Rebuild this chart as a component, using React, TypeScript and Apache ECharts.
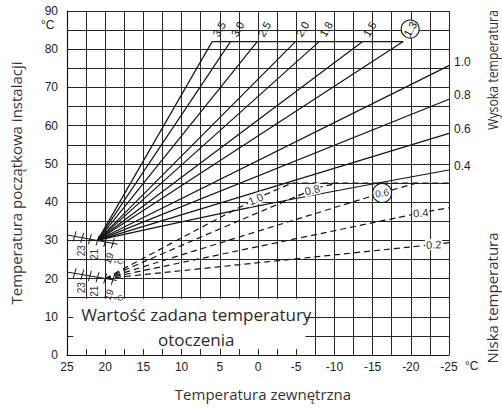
import { useEffect, useRef } from 'react';
import * as echarts from 'echarts';

// ---------------- data ----------------
const xTickLabels = [25, 20, 15, 10, 5, 0, -5, -10, -15, -20, -25];
const yTickLabels = [0, 10, 20, 30, 40, 50, 60, 70, 80, 90];

// high temperature heating curves (solid)
const highCurveNames = ['3.5', '3.0', '2.5', '2.0', '1.8', '1.5', '1.3', '1.0', '0.8', '0.6', '0.4'];
const highCurves: number[][][] = [
  [[21, 30], [6.0, 82]],
  [[21, 30], [3.6, 82]],
  [[21, 30], [0.1, 82]],
  [[21, 30], [-4.9, 82]],
  [[21, 30], [-8.0, 82]],
  [[21, 30], [-13.7, 82]],
  [[21, 30], [-19.0, 82]],
  [[21, 30], [-25, 75.7]],
  [[21, 30], [-25, 66.9]],
  [[21, 30], [-25, 58.0]],
  [[21, 30], [0, 39.0], [-25, 48.4]],
];
const highCap = [[6.0, 82], [-19.0, 82]];
const highCircled = '1.3';

// low temperature heating curves (dashed)
const lowCurveNames = ['1.0', '0.8', '0.6', '0.4', '0.2'];
const lowCurves: number[][][] = [
  [[20, 20], [0.3, 40.8], [-4.5, 45]],
  [[20, 20], [-7.1, 43.2], [-10.5, 45]],
  [[20, 20], [-16.25, 42.4], [-20.8, 45]],
  [[20, 20], [-21.3, 37.2], [-25, 38.5]],
  [[20, 20], [-23.0, 28.9], [-25, 29.4]],
];
const lowCap = [[-4.5, 45], [-25, 45]];
const lowLabelAt = [[0.3, 40.8], [-7.1, 43.2], [-16.25, 42.4], [-21.3, 37.2], [-23.0, 28.9]];
const lowLabelAngle = [22, 14, 9, 6, 3];
const lowCircled = '0.6';

// room set-point scales
const setpointTicks = [24, 23, 22, 21, 20, 19];
const setpointLabels = ['23', '21', '19'];
const highScale = [[25, 31.4], [18.4, 29.0]];
const lowScale = [[25, 21.7], [18.5, 19.5]];

const boxText = ['Wartość zadana temperatury', 'otoczenia'];

// ---------------- component ----------------
export default function App() {
  const ref = useRef<HTMLDivElement>(null);
  useEffect(() => {
    const chart = echarts.init(ref.current!, null, { renderer: 'svg' });
    const FA = '"Liberation Sans", Arial, sans-serif';
    const FT = '"Open Sans", "Noto Sans", sans-serif';
    const INK = '#141414';
    const GRID = '#262626';

    const series: any[] = [];
    highCurves.forEach((pts, i) =>
      series.push({
        type: 'line', name: 'H' + highCurveNames[i], data: pts, symbol: 'none', silent: true, z: 3,
        smooth: pts.length > 2 ? 0.35 : false,
        lineStyle: { color: INK, width: 1.2 },
      })
    );
    series.push({ type: 'line', data: highCap, symbol: 'none', silent: true, z: 3, lineStyle: { color: INK, width: 1.2 } });
    lowCurves.forEach((pts, i) =>
      series.push({
        type: 'line', name: 'L' + lowCurveNames[i], data: pts, symbol: 'none', silent: true, z: 3,
        smooth: 0.3,
        lineStyle: { color: INK, width: 1.2, type: [6, 4] },
      })
    );
    series.push({ type: 'line', data: lowCap, symbol: 'none', silent: true, z: 3, lineStyle: { color: INK, width: 1.2, type: [6, 4] } });

    const interp = (s: number[][], x: number) => {
      const t = (x - s[0][0]) / (s[1][0] - s[0][0]);
      return s[0][1] + t * (s[1][1] - s[0][1]);
    };

    // under layer: blank box with text, set-point scales
    series.push({
      type: 'custom', z: 1, silent: true, data: [[0, 0]],
      renderItem: (_p: any, api: any) => {
        const c = (p: number[]) => api.coord(p);
        const ch: any[] = [];
        const a = c([24.2, 14.7]);
        const b = c([-6.2, 1.6]);
        ch.push({ type: 'rect', shape: { x: a[0], y: a[1], width: b[0] - a[0], height: b[1] - a[1] }, style: { fill: '#fff' } });
        const mid = (a[0] + b[0]) / 2 + 7;
        ch.push({ type: 'text', x: mid, y: c([0, 10.5])[1], style: { text: boxText[0], font: `17px ${FT}`, fill: '#2a2a2a', align: 'center', verticalAlign: 'middle' } });
        ch.push({ type: 'text', x: mid, y: c([0, 4.0])[1], style: { text: boxText[1], font: `17px ${FT}`, fill: '#2a2a2a', align: 'center', verticalAlign: 'middle' } });

        [highScale, lowScale].forEach((s) => {
          const p0 = c(s[0]);
          const p1 = c(s[1]);
          ch.push({ type: 'line', shape: { x1: p0[0], y1: p0[1], x2: p1[0], y2: p1[1] }, style: { stroke: INK, lineWidth: 1 } });
          setpointTicks.forEach((t) => {
            const p = c([t, interp(s, t)]);
            ch.push({ type: 'line', shape: { x1: p[0] + 1.5, y1: p[1] - 5, x2: p[0] - 1.5, y2: p[1] + 5 }, style: { stroke: INK, lineWidth: 1 } });
          });
          const offs = [[-1, 13, Math.PI / 2], [-3, 14, Math.PI / 2], [-4, 15, 1.2]];
          setpointLabels.forEach((l, k) => {
            const v = Number(l);
            const p = c([v, interp(s, v)]);
            ch.push({ type: 'text', x: p[0] + offs[k][0], y: p[1] + offs[k][1], rotation: offs[k][2], style: { text: l, font: `10px ${FA}`, fill: '#333', align: 'center', verticalAlign: 'middle' } });
          });
          const p19 = c([19, interp(s, 19)]);
          ch.push({ type: 'text', x: p19[0] + 6, y: p19[1] + 19, rotation: 0.5, style: { text: '°C', font: `8px ${FA}`, fill: '#333', align: 'center', verticalAlign: 'middle' } });
        });
        return { type: 'group', children: ch };
      },
    });

    // over layer: curve labels
    series.push({
      type: 'custom', z: 6, silent: true, data: [[0, 0]],
      renderItem: (_p: any, api: any) => {
        const c = (p: number[]) => api.coord(p);
        const ch: any[] = [];
        highCurves.forEach((pts, i) => {
          const end = c(pts[pts.length - 1]);
          const name = highCurveNames[i];
          if (pts[pts.length - 1][0] > -25) {
            const x = end[0] + 7;
            const y = end[1] - 12.5;
            if (name === highCircled) {
              ch.push({ type: 'circle', shape: { cx: x, cy: y, r: 9 }, style: { fill: '#fff', stroke: INK, lineWidth: 1.1 } });
            }
            ch.push({ type: 'text', x, y, rotation: Math.PI / 3, style: { text: name, font: `11px ${FA}`, fill: INK, align: 'center', verticalAlign: 'middle' } });
          } else {
            ch.push({ type: 'text', x: end[0] + 5, y: end[1] - 4, style: { text: name, font: `12px ${FA}`, fill: '#222', align: 'left', verticalAlign: 'middle' } });
          }
        });
        lowLabelAt.forEach((pos, i) => {
          const p = c(pos);
          const name = lowCurveNames[i];
          if (name === lowCircled) {
            ch.push({ type: 'circle', shape: { cx: p[0], cy: p[1], r: 9.5 }, style: { fill: '#fff', stroke: INK, lineWidth: 1.1 } });
            ch.push({ type: 'text', x: p[0], y: p[1], rotation: (lowLabelAngle[i] * Math.PI) / 180, style: { text: name, font: `10px ${FA}`, fill: '#333', align: 'center', verticalAlign: 'middle' } });
          } else {
            ch.push({ type: 'text', x: p[0], y: p[1], rotation: (lowLabelAngle[i] * Math.PI) / 180, style: { text: name, font: `11px ${FA}`, fill: '#333', align: 'center', verticalAlign: 'middle', backgroundColor: '#fff', padding: [0, 1] } });
          }
        });
        return { type: 'group', children: ch };
      },
    });

    chart.setOption({
      animation: false,
      grid: { left: 66, right: 53, top: 11, bottom: 53 },
      xAxis: {
        type: 'value', inverse: true, min: -25, max: 25, interval: 5,
        name: 'Temperatura zewnętrzna', nameLocation: 'middle', nameGap: 31,
        nameTextStyle: { fontFamily: FT, fontSize: 15, color: '#333', padding: [0, 0, 0, 10] },
        axisLine: { show: true, onZero: false, lineStyle: { color: INK, width: 1.2 } },
        axisTick: { show: false },
        axisLabel: { color: '#222', fontSize: 12, fontFamily: FA, margin: 6, formatter: (v: number) => (xTickLabels.includes(v) ? String(v) : '') },
        splitLine: { show: true, lineStyle: { color: GRID, width: 1 } },
        minorTick: { show: false, splitNumber: 2 },
        minorSplitLine: { show: true, lineStyle: { color: GRID, width: 1 } },
      },
      yAxis: {
        type: 'value', min: 0, max: 90, interval: 10,
        name: 'Temperatura początkowa instalacji', nameLocation: 'middle', nameGap: 44,
        nameTextStyle: { fontFamily: FT, fontSize: 15, color: '#333' },
        axisLine: { show: true, onZero: false, lineStyle: { color: INK, width: 1.2 } },
        axisTick: { show: false },
        axisLabel: { color: '#222', fontSize: 12, fontFamily: FA, margin: 9, formatter: (v: number) => (yTickLabels.includes(v) ? String(v) : '') },
        splitLine: { show: true, lineStyle: { color: GRID, width: 1 } },
        minorTick: { show: false, splitNumber: 2 },
        minorSplitLine: { show: true, lineStyle: { color: GRID, width: 1 } },
      },
      graphic: [
        { type: 'text', left: 41, top: 19, style: { text: '°C', font: `12px ${FA}`, fill: '#222' } },
        { type: 'text', left: 465, top: 360, style: { text: '°C', font: `12px ${FA}`, fill: '#222' } },
        { type: 'text', x: 492, y: 70, rotation: Math.PI / 2, scaleX: 0.82, style: { text: 'Wysoka temperatura', font: `15px ${FT}`, fill: '#333', align: 'center', verticalAlign: 'middle' } },
        { type: 'text', x: 492, y: 298, rotation: Math.PI / 2, style: { text: 'Niska temperatura', font: `15px ${FT}`, fill: '#333', align: 'center', verticalAlign: 'middle' } },
      ],
      series,
    });
    return () => chart.dispose();
  }, []);
  return <div ref={ref} style={{ width: 502, height: 408, position: 'absolute', left: 0, top: 0 }} />;
}
